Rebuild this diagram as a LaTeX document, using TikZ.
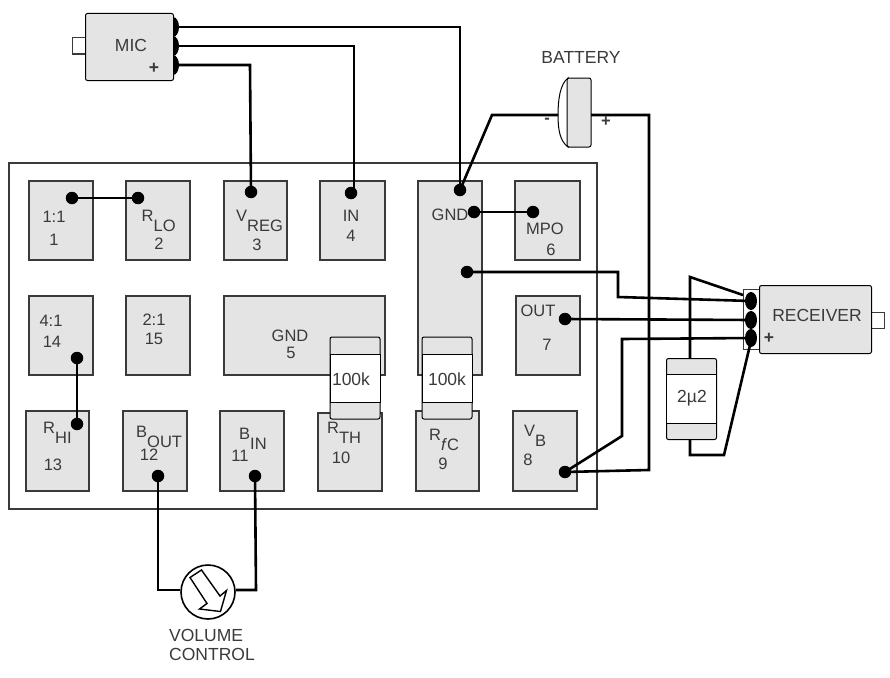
\documentclass[tikz,border=0pt]{standalone}
\usepackage{fontspec}
\setmainfont{Liberation Sans}
\definecolor{padfill}{HTML}{E4E4E4}
\definecolor{ink}{HTML}{3A3A3A}
\newcommand{\subt}[2]{#1\raisebox{-10pt}{#2}}
\tikzset{
  pad/.style={draw=ink,line width=1.1pt,fill=padfill,inner sep=0pt,outer sep=0pt,rectangle},
  comp/.style={draw=black,line width=1pt,fill=padfill,rounded corners=2pt,inner sep=0pt},
  stub/.style={draw=ink,line width=1pt,fill=white},
  dot/.style={circle,fill=black,inner sep=0pt,minimum size=12.5pt},
  lobe/.style={ellipse,fill=black,inner sep=0pt},
  wire/.style={draw=black,line width=2.6pt,line join=miter},
  lab/.style={inner sep=0pt,text=ink,font=\fontsize{16.5}{18}\selectfont},
  sublab/.style={lab,anchor=base west},
  biglab/.style={inner sep=0pt,text=ink,font=\fontsize{17.5}{20}\selectfont},
}
\usetikzlibrary{shapes.geometric}
\newcommand{\padbox}[5]{\path[pad] (#2,#3) rectangle (#4,#5) coordinate (#1);}
\begin{document}
\begin{tikzpicture}[x=1pt,y=-1pt]
\useasboundingbox (0,0) rectangle (890,677);
% main board
\path[draw=ink,line width=1.5pt,fill=white] (9,163) rectangle (597,509);
% pads
\padbox{p1}{29}{181}{93}{260}
\padbox{p2}{126}{181}{190}{260}
\padbox{p3}{224}{181}{287}{260}
\padbox{p4}{320}{181}{385}{260}
\padbox{pg}{418}{181}{482}{375}
\padbox{p6}{515}{181}{580}{260}
\padbox{p14}{29}{296}{93}{375}
\padbox{p15}{126}{296}{190}{375}
\padbox{p5}{224}{296}{385}{375}
\padbox{p7}{516}{296}{580}{375}
\padbox{p13}{26}{411}{89}{491}
\padbox{p12}{123}{411}{187}{491}
\padbox{p11}{220}{411}{284}{491}
\padbox{p10}{318}{413}{382}{491}
\padbox{p9}{416}{411}{479}{491}
\padbox{p8}{513}{411}{577}{491}
% pad labels
\node[lab] (t1a) at (54,217) {1:1};
\node[lab] (t1b) at (54,240) {1};
\node[sublab] (t2a) at (141.5,221) {\subt{R}{LO}};
\node[lab] (t2b) at (159,244) {2};
\node[sublab] (t3a) at (236,221) {\subt{V}{REG}};
\node[lab] (t3b) at (257,245) {3};
\node[lab] (t4a) at (351,216) {IN};
\node[lab] (t4b) at (351,236) {4};
\node[lab] (tga) at (450,215) {GND};
\node[lab] (t6a) at (545,229) {MPO};
\node[lab] (t6b) at (551,250) {6};
\node[lab] (t14a) at (51,321) {4:1};
\node[lab] (t14b) at (52,342) {14};
\node[lab] (t15a) at (154,320) {2:1};
\node[lab] (t15b) at (154,339) {15};
\node[lab] (t5a) at (290,336) {GND};
\node[lab] (t5b) at (291,353) {5};
\node[lab] (t7a) at (538,311) {OUT};
\node[lab] (t7b) at (547,345) {7};
\node[sublab] (t13a) at (43,433) {\subt{R}{HI}};
\node[lab] (t13b) at (53,465) {13};
\node[sublab] (t12a) at (136,437) {\subt{B}{OUT}};
\node[lab] (t12b) at (149,455) {12};
\node[sublab] (t11a) at (239,439) {\subt{B}{IN}};
\node[lab] (t11b) at (240,456) {11};
\node[sublab] (t10a) at (327,433) {\subt{R}{TH}};
\node[lab] (t10b) at (341,458) {10};
\node[sublab] (t9a) at (429,440) {\subt{R}{\textit{f}C}};
\node[lab] (t9b) at (443,464) {9};
\node[sublab] (t8a) at (524,436) {\subt{V}{B}};
\node[lab] (t8b) at (528,460) {8};
% microphone
\path[stub] (72,38) rectangle (86,54);
\node[lobe,minimum width=12pt,minimum height=20pt] (m1) at (173,27) {};
\node[lobe,minimum width=12pt,minimum height=20pt] (m2) at (173,46) {};
\node[lobe,minimum width=12pt,minimum height=20pt] (m3) at (173,65) {};
\node[comp,minimum width=88pt,minimum height=67pt,anchor=north west] (mic) at (85,13) {};
\node[biglab] (mict) at (131,45) {MIC};
\node[biglab,font=\fontsize{17.5}{20}\selectfont\bfseries] (micp) at (154,68) {+};
% battery
\coordinate (bl) at (558,115);
\coordinate (br) at (591,115);
\path[draw=black,line width=1pt,fill=white] (568,78) .. controls (560,84) and (558,100) .. (558,115) .. controls (558,130) and (560,141) .. (568,147) -- cycle;
\path[comp] (567,78) rectangle (591,147);
\node[biglab] (batt) at (581,57) {BATTERY};
\node[lab,font=\fontsize{16.5}{18}\selectfont\bfseries] (bm) at (547,121) {-};
\node[lab,font=\fontsize{16.5}{18}\selectfont\bfseries] (bp) at (606,122) {+};
% receiver
\path[stub] (871,312) rectangle (884,328);
\path[stub] (743,289) rectangle (759,349);
\node[comp,minimum width=112pt,minimum height=68pt,anchor=north west] (rcv) at (759,285) {};
\node[biglab] (rcvt) at (817,315) {RECEIVER};
\node[biglab,font=\fontsize{17.5}{20}\selectfont\bfseries] (rcvp) at (769,338) {+};
% dots
\node[dot] (d1) at (72,198) {};
\node[dot] (d2) at (138,198) {};
\node[dot] (d3) at (251,192) {};
\node[dot] (d4) at (351,193) {};
\node[dot] (dg) at (460,190) {};
\node[dot] (dga) at (474,212) {};
\node[dot] (d6) at (533,212) {};
\node[dot] (dgb) at (467,272) {};
\node[dot] (d7) at (565,319) {};
\node[dot] (d14) at (77,358) {};
\node[dot] (d13) at (77,424) {};
\node[dot] (d12) at (158,476) {};
\node[dot] (d11) at (255,476) {};
\node[dot] (d8) at (565,472) {};
% volume control
\node[circle,draw=black,line width=1.6pt,fill=white,minimum size=54pt,inner sep=0pt] (vol) at (208,592) {};
\path[draw=black,line width=1.4pt,fill=white,line join=miter] (190,577.5) -- (201.5,570) -- (220,596) -- (226.5,590.5) -- (220.5,611.5) -- (199.5,609) -- (207,603.5) -- cycle;
\node[biglab,align=left,anchor=west] (volt) at (169,645) {VOLUME\\[-1pt]CONTROL};
% capacitor
\node[comp,minimum width=50pt,minimum height=81pt,anchor=north west] (cap) at (666,358) {};
\coordinate (ct) at (690,277);
\coordinate (cb) at (690,455);
\coordinate (cc) at (724,455);
\node[lobe,minimum width=12pt,minimum height=18pt] (r1) at (751,301) {};
\node[lobe,minimum width=12pt,minimum height=18pt] (r2) at (751,320) {};
\node[lobe,minimum width=12pt,minimum height=18pt] (r3) at (751,338) {};
% wiring
\draw[wire] (d1.center) -- (d2.center);
\draw[wire] (d14.center) -- (d13.center);
\draw[wire] (dga.center) -- (d6.center);
\draw[wire] (m1.center) -- (460,27) -- (dg.center);
\draw[wire] (m2.center) -- (354,46) -- (354,193);
\draw[wire] (m3.center) -- (250,65) -- (d3.center);
\draw[wire] (dg.center) -- (492,115) -- (bl);
\draw[wire] (br) -- (649,115) -- (649,470) -- (d8.center);
\draw[wire] (d8.center) -- (622,436) -- (622,339) -- (r3.center);
\draw[wire] (dgb.center) -- (618,272) -- (618,297) -- (r1.center);
\draw[wire] (d7.center) -- (r2.center);
\draw[wire] (cap.north -| ct) -- (ct) -- (743,295);
\draw[wire] (cap.south -| cb) -- (cb) -- (cc) -- (750,345);
\draw[wire] (d12.center) -- (158,590) -- (vol.west |- 0,590);
\draw[wire] (d11.center) -- (256,590) -- (vol.east |- 0,590);
% capacitor and resistors on top
\path[fill=white,draw=black,line width=1pt] (666,374) rectangle (716,423);
\node[biglab] (capt) at (692,398) {2µ2};
\path[comp] (330,337) rectangle (380,419);
\path[fill=white,draw=black,line width=1pt] (330,354) rectangle (380,402);
\node[biglab] (r10) at (351,379) {100k};
\path[comp] (422,337) rectangle (472,419);
\path[fill=white,draw=black,line width=1pt] (422,354) rectangle (472,402);
\node[biglab] (r9) at (447,379) {100k};
\end{tikzpicture}
\end{document}
